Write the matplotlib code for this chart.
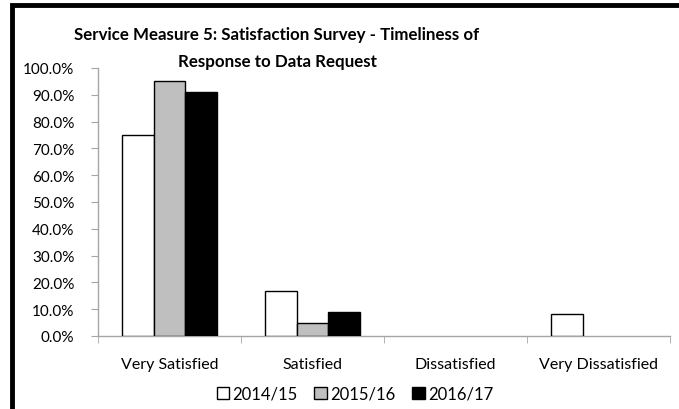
import numpy as np
import matplotlib.pyplot as plt
from matplotlib.patches import Rectangle
from matplotlib.ticker import FuncFormatter

plt.rcParams['font.family'] = ['Lato', 'DejaVu Sans']

categories = ["Very Satisfied", "Satisfied", "Dissatisfied", "Very Dissatisfied"]
years = ["2014/15", "2015/16", "2016/17"]
vals_1415 = [0.750, 0.167, 0.0, 0.083]
vals_1516 = [0.950, 0.050, 0.0, 0.0]
vals_1617 = [0.909, 0.091, 0.0, 0.0]
series = [vals_1415, vals_1516, vals_1617]
fills = ["white", "#bfbfbf", "black"]

fig = plt.figure(figsize=(6.79, 4.10), dpi=100)
ax = fig.add_axes([98/679, 1 - 337/410, (670 - 98)/679, (337 - 69)/410])

x = np.arange(len(categories))
w = 0.222
for i, (vals, fc) in enumerate(zip(series, fills)):
    lw = [0 if v == 0 else 1.0 for v in vals]
    ax.bar(x + (i - 1) * w, vals, width=w, color=fc, edgecolor="black",
           linewidth=lw, label=years[i], zorder=3)

ax.set_xlim(-0.5, len(categories) - 0.5)
ax.set_ylim(0, 1.0)
ax.set_yticks(np.arange(0, 1.01, 0.1))
ax.yaxis.set_major_formatter(FuncFormatter(lambda v, p: f"{v*100:.1f}%"))
ax.set_xticks(x)
ax.set_xticklabels(categories, fontsize=11.5)
ax.set_xticks(np.arange(-0.5, len(categories), 1.0), minor=True)
ax.tick_params(axis="x", which="major", length=0, pad=15)
ax.tick_params(axis="x", which="minor", length=5, color="#a6a6a6", direction="out")
ax.tick_params(axis="y", length=5, color="#a6a6a6", labelsize=11, pad=12)

for s in ["top", "right"]:
    ax.spines[s].set_visible(False)
for s in ["left", "bottom"]:
    ax.spines[s].set_color("#a6a6a6")
    ax.spines[s].set_linewidth(1.0)

fig.text(277/679, 1 - 35/410, "Service Measure 5: Satisfaction Survey - Timeliness of",
         ha="center", va="center", fontsize=12.2, fontweight="bold")
fig.text(277/679, 1 - 62/410, "Response to Data Request",
         ha="center", va="center", fontsize=12.2, fontweight="bold")

ax.legend(loc="center", bbox_to_anchor=((355 - 98) / 572, (337 - 395) / (337 - 69)), ncol=3,
          frameon=False, fontsize=12, handlelength=0.75, handleheight=0.75,
          handletextpad=0.2, columnspacing=1.0, borderaxespad=0)

# outer chart border
fig.patches.append(Rectangle((12/679, -0.1), 1.0, 1.1 - 5.5/410, transform=fig.transFigure,
                             fill=False, edgecolor="black", linewidth=3.5))

fig.savefig("out.png", dpi=100)
